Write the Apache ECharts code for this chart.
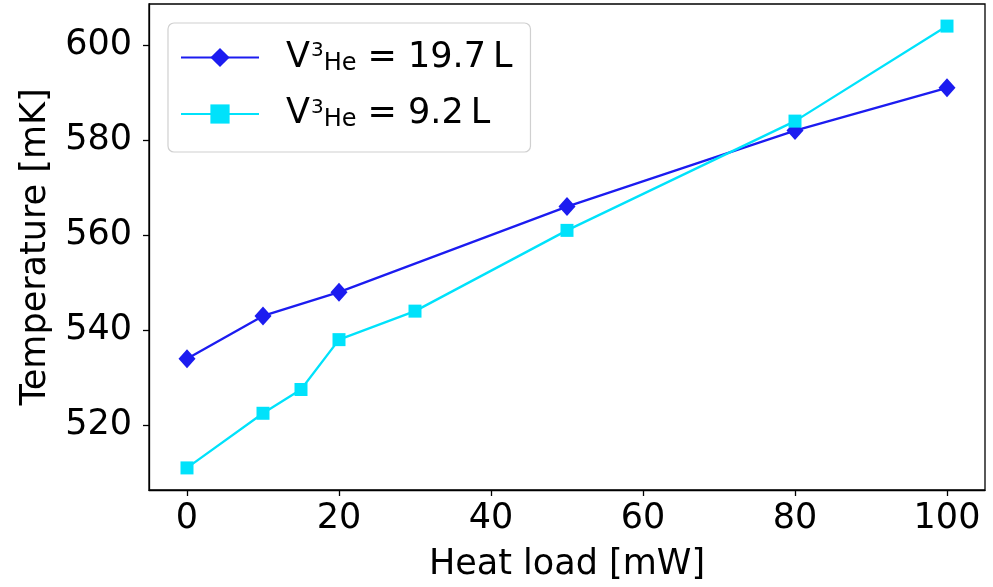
<!DOCTYPE html>
<html>
<head>
<meta charset="utf-8">
<script src="https://cdn.jsdelivr.net/npm/echarts@6/dist/echarts.min.js"></script>
<style>
  html, body { margin: 0; padding: 0; background: #fff; }
  #chart { width: 993px; height: 587px; }
</style>
</head>
<body>
<div id="chart"></div>
<script>
// Heat load (mW) and mixing-chamber temperature (mK) for two 3He volumes
const heatLoadLarge = [0, 10, 20, 50, 80, 100];
const tempLarge = [534, 543, 548, 566, 582, 591];
const heatLoadSmall = [0, 10, 15, 20, 30, 50, 80, 100];
const tempSmall = [511, 522.5, 527.5, 538, 544, 561, 584, 604];

const xTicks = [0, 20, 40, 60, 80, 100];
const yTicks = [520, 540, 560, 580, 600];

const volumeLabels = ['19.7\u2009L', '9.2\u2009L'];
const seriesNames = ['V3He = 19.7 L', 'V3He = 9.2 L'];

const FONT = '"DejaVu Sans"';
const FS = 35;
const BLUE = '#1c1cf0';
const CYAN = '#00e2fb';

const chart = echarts.init(document.getElementById('chart'), null, { renderer: 'canvas' });

const pairs = (xs, ys) => xs.map((x, i) => [x, ys[i]]);

chart.setOption({
  animation: false,
  backgroundColor: '#fff',
  textStyle: { fontFamily: FONT },
  grid: {
    left: 149, right: 8, top: 4, bottom: 95,
    show: true, borderColor: '#000', borderWidth: 1.3, backgroundColor: 'transparent'
  },
  legend: {
    left: 168, top: 23,
    orient: 'vertical',
    padding: [17, 18, 20, 12],
    itemGap: 21,
    itemWidth: 78,
    itemHeight: 24,
    backgroundColor: '#fff',
    borderColor: '#d0d0d0',
    borderWidth: 1.2,
    borderRadius: 6,
    data: seriesNames,
    formatter: function (name) {
      const idx = seriesNames.indexOf(name);
      return '{v|V}{sup|3}{sub|He}{t| = ' + volumeLabels[idx] + '}';
    },
    textStyle: {
      fontFamily: FONT,
      color: '#000',
      padding: [0, 0, 0, 22],
      rich: {
        v: { fontSize: FS, fontFamily: FONT, color: '#000' },
        sup: { fontSize: 20, fontFamily: FONT, color: '#000', padding: [0, 0, 13, 1] },
        sub: { fontSize: 24, fontFamily: FONT, color: '#000', padding: [12, 0, 0, 0] },
        t: { fontSize: FS, fontFamily: FONT, color: '#000' }
      }
    }
  },
  xAxis: {
    type: 'value',
    min: -5, max: 105,
    name: 'Heat load [mW]',
    nameLocation: 'middle',
    nameGap: 57,
    nameTextStyle: { fontSize: FS, fontFamily: FONT, color: '#000' },
    splitLine: { show: false },
    axisLine: { show: true, onZero: false, lineStyle: { color: '#000', width: 1.3 } },
    axisTick: { show: true, customValues: xTicks, length: 6, lineStyle: { color: '#000', width: 1.3 } },
    axisLabel: { customValues: xTicks, fontSize: FS, fontFamily: FONT, color: '#000', margin: 11 }
  },
  yAxis: {
    type: 'value',
    min: 506.35, max: 608.65,
    name: 'Temperature [mK]',
    nameLocation: 'middle',
    nameGap: 96,
    nameTextStyle: { fontSize: FS, fontFamily: FONT, color: '#000' },
    splitLine: { show: false },
    axisLine: { show: true, onZero: false, lineStyle: { color: '#000', width: 1.3 } },
    axisTick: { show: true, customValues: yTicks, length: 6, lineStyle: { color: '#000', width: 1.3 } },
    axisLabel: { customValues: yTicks, fontSize: FS, fontFamily: FONT, color: '#000', margin: 17 }
  },
  series: [
    {
      name: seriesNames[0],
      type: 'line',
      data: pairs(heatLoadLarge, tempLarge),
      symbol: 'diamond',
      symbolSize: [17, 19],
      lineStyle: { color: BLUE, width: 2.3 },
      itemStyle: { color: BLUE }
    },
    {
      name: seriesNames[1],
      type: 'line',
      data: pairs(heatLoadSmall, tempSmall),
      symbol: 'rect',
      symbolSize: 13,
      lineStyle: { color: CYAN, width: 2.3 },
      itemStyle: { color: CYAN }
    }
  ]
});
</script>
</body>
</html>
